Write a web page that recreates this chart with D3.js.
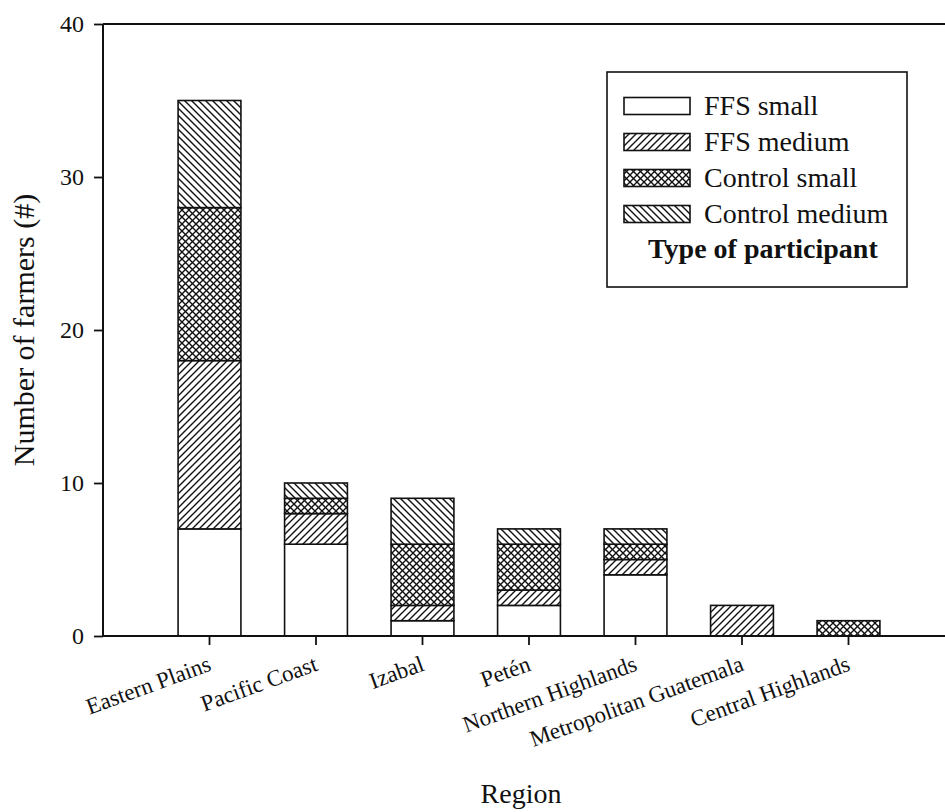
<!DOCTYPE html>
<html>
<head>
<meta charset="utf-8">
<script src="https://cdn.jsdelivr.net/npm/d3@7"></script>
<style>
  html, body { margin: 0; padding: 0; background: #fff; }
  svg { display: block; }
  text { font-family: "Liberation Serif", "Times New Roman", serif; fill: #111; }
</style>
</head>
<body>
<svg id="chart" width="945" height="812"></svg>
<script>
// ---- data ----
const regions = ["Eastern Plains", "Pacific Coast", "Izabal", "Petén", "Northern Highlands", "Metropolitan Guatemala", "Central Highlands"];
const seriesNames = ["FFS small", "FFS medium", "Control small", "Control medium"];
const ffsSmall      = [7, 6, 1, 2, 4, 0, 0];
const ffsMedium     = [11, 2, 1, 1, 1, 2, 0];
const controlSmall  = [10, 1, 4, 3, 1, 0, 1];
const controlMedium = [7, 1, 3, 1, 1, 0, 0];
const yTicks = [0, 10, 20, 30, 40];
const yTitle = "Number of farmers (#)";
const xTitle = "Region";
const legendTitle = "Type of participant";

const seriesValues = [ffsSmall, ffsMedium, controlSmall, controlMedium];
const table = regions.map((r, i) => {
  const row = { region: r };
  seriesNames.forEach((s, k) => row[s] = seriesValues[k][i]);
  return row;
});

// ---- layout ----
const svg = d3.select("#chart");
const pL = 103, pR = 955, pT = 24, pB = 636;

svg.append("rect").attr("width", 945).attr("height", 812).attr("fill", "#fff");

const defs = svg.append("defs");
const P = 7;
function hatch(id, dirs, sw) {
  const p = defs.append("pattern").attr("id", id)
    .attr("patternUnits", "userSpaceOnUse").attr("width", P).attr("height", P);
  p.append("rect").attr("width", P).attr("height", P).attr("fill", "#fff");
  if (dirs.includes("/")) {
    p.append("path").attr("d", `M0,${P} L${P},0 M${-P/2},${P/2} L${P/2},${-P/2} M${P/2},${P*1.5} L${P*1.5},${P/2}`)
      .attr("stroke", "#111").attr("stroke-width", sw);
  }
  if (dirs.includes("\\")) {
    p.append("path").attr("d", `M0,0 L${P},${P} M${-P/2},${P/2} L${P/2},${P*1.5} M${P/2},${-P/2} L${P*1.5},${P/2}`)
      .attr("stroke", "#111").attr("stroke-width", sw);
  }
}
hatch("pFFSmed", "/", 1.4);
hatch("pCtrlSmall", "/\\", 1.4);
hatch("pCtrlMed", "\\", 1.4);
const fills = ["#fff", "url(#pFFSmed)", "url(#pCtrlSmall)", "url(#pCtrlMed)"];

const x = d3.scaleBand().domain(regions)
  .range([pL + 53.25, pR - 53.25]).paddingInner(0.41).paddingOuter(0.205);
const y = d3.scaleLinear().domain([0, 40]).range([pB, pT]);

const stack = d3.stack().keys(seriesNames)(table);

const g = svg.append("g");
stack.forEach((layer, k) => {
  g.selectAll(null).data(layer.filter(d => d[1] > d[0])).enter().append("rect")
    .attr("x", d => x(d.data.region))
    .attr("width", x.bandwidth())
    .attr("y", d => y(d[1]))
    .attr("height", d => y(d[0]) - y(d[1]))
    .attr("fill", fills[k])
    .attr("stroke", "#111")
    .attr("stroke-width", 1.6);
});

// frame top line
svg.append("line").attr("x1", pL).attr("x2", pR).attr("y1", pT).attr("y2", pT)
  .attr("stroke", "#111").attr("stroke-width", 1.8);

// y axis
const yAxis = svg.append("g").attr("transform", `translate(${pL},0)`)
  .call(d3.axisLeft(y).tickValues(yTicks).tickSize(9).tickPadding(10).tickFormat(d3.format("d")));
yAxis.select(".domain").attr("stroke", "#111").attr("stroke-width", 2).attr("d", `M0,${pT}V${pB}`);
yAxis.selectAll(".tick line").attr("stroke", "#111").attr("stroke-width", 1.8);
yAxis.selectAll(".tick text").attr("font-size", 24).attr("font-family", "Liberation Serif, serif").attr("fill", "#111");

// x axis
const xAxis = svg.append("g").attr("transform", `translate(0,${pB})`)
  .call(d3.axisBottom(x).tickSize(9).tickSizeOuter(0));
xAxis.select(".domain").attr("stroke", "#111").attr("stroke-width", 2).attr("d", `M${pL},0H${pR}`);
xAxis.selectAll(".tick line").attr("stroke", "#111").attr("stroke-width", 1.8);
xAxis.selectAll(".tick text")
  .attr("font-size", 23).attr("font-family", "Liberation Serif, serif").attr("fill", "#111")
  .attr("text-anchor", "end").attr("x", 0).attr("y", 0).attr("dy", 0)
  .attr("transform", "translate(3,34) rotate(-20)");

// titles
svg.append("text").attr("transform", `translate(34,${(pT + pB) / 2}) rotate(-90)`)
  .attr("text-anchor", "middle").attr("font-size", 30).text(yTitle);
svg.append("text").attr("x", 521).attr("y", 803).attr("text-anchor", "middle")
  .attr("font-size", 28).text(xTitle);

// legend
const lg = svg.append("g");
lg.append("rect").attr("x", 607).attr("y", 72).attr("width", 300).attr("height", 215)
  .attr("fill", "#fff").attr("stroke", "#111").attr("stroke-width", 1.6);
seriesNames.forEach((s, k) => {
  const cy = 106 + k * 36;
  lg.append("rect").attr("x", 624).attr("y", cy - 8.5).attr("width", 66).attr("height", 17)
    .attr("fill", fills[k]).attr("stroke", "#111").attr("stroke-width", 1.6);
  lg.append("text").attr("x", 704).attr("y", cy + 9).attr("font-size", 28).text(s);
});
lg.append("text").attr("x", 648).attr("y", 258).attr("font-size", 28).attr("font-weight", "bold").text(legendTitle);
</script>
</body>
</html>
